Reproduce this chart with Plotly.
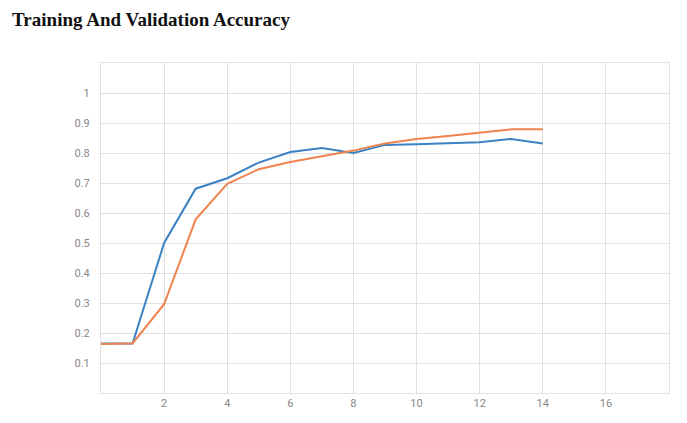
import plotly.graph_objects as go

epochs = list(range(15))
blue_acc = [0.165, 0.165, 0.50, 0.681, 0.716, 0.768, 0.803, 0.817, 0.80, 0.827, 0.829, 0.832, 0.836, 0.847, 0.832]
orange_acc = [0.163, 0.165, 0.296, 0.579, 0.697, 0.746, 0.77, 0.79, 0.808, 0.832, 0.847, 0.857, 0.867, 0.879, 0.879]
x_ticks = [2, 4, 6, 8, 10, 12, 14, 16]
y_ticks = [0.1, 0.2, 0.3, 0.4, 0.5, 0.6, 0.7, 0.8, 0.9, 1]

fig = go.Figure()
fig.add_trace(go.Scatter(x=epochs, y=blue_acc, mode="lines", name="train",
                         line=dict(color="#3b82c4", width=2)))
fig.add_trace(go.Scatter(x=epochs, y=orange_acc, mode="lines", name="validation",
                         line=dict(color="#f0844f", width=2)))

# page body adds ~8px offset, margins compensate
fig.update_layout(
    width=687,
    height=423,
    margin=dict(l=93, r=26, t=55, b=38),
    plot_bgcolor="white",
    paper_bgcolor="white",
    showlegend=False,
    title=dict(text="<b>Training And Validation Accuracy</b>", x=0.006, xanchor="left",
               y=0.99, yanchor="top",
               font=dict(family="Liberation Serif", size=19, color="#111")),
    xaxis=dict(range=[0, 18], tickvals=x_ticks, showgrid=True, gridcolor="#e0e0e0",
               gridwidth=1, zeroline=False, showline=True, linecolor="#e0e0e0",
               mirror=True, ticks="", tickfont=dict(family="Roboto", size=11, color="#888")),
    yaxis=dict(range=[0, 1.1], tickvals=y_ticks, showgrid=True, gridcolor="#e0e0e0",
               gridwidth=1, zeroline=False, showline=True, linecolor="#e0e0e0",
               mirror=True, ticks="", ticklabelstandoff=8,
               tickfont=dict(family="Roboto", size=11, color="#888")),
)

fig.write_html("out.html")
